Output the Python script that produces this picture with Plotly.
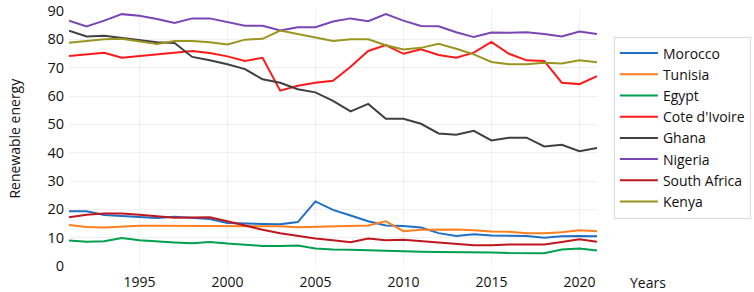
import plotly.graph_objects as go

years = list(range(1991, 2022))

morocco = [19.3, 19.3, 18.0, 17.6, 17.2, 16.9, 17.4, 17.1, 16.6, 15.2,
           14.9, 14.8, 14.7, 15.5, 22.8, 19.8, 17.8, 15.8, 14.3, 14.1,
           13.6, 11.6, 10.6, 11.2, 10.8, 10.8, 10.6, 10.0, 10.5, 10.6, 10.5]
tunisia = [14.5, 13.8, 13.6, 14.0, 14.2, 14.2, 14.2, 14.2, 14.2, 14.0,
           14.2, 14.2, 14.0, 13.7, 13.8, 14.0, 14.0, 14.3, 15.8, 12.3,
           12.8, 12.9, 12.9, 12.6, 12.2, 12.1, 11.6, 11.6, 11.9, 12.6, 12.3]
egypt = [9.0, 8.6, 8.7, 9.9, 9.1, 8.6, 8.3, 8.0, 8.5, 7.9,
         7.6, 7.1, 7.1, 7.2, 6.2, 5.8, 5.7, 5.5, 5.2, 5.0,
         5.0, 4.9, 4.9, 4.9, 4.8, 4.6, 4.5, 4.5, 5.8, 6.2, 5.5]
cote_divoire = [74.1, 74.7, 75.3, 73.5, 74.1, 74.7, 75.3, 75.9, 75.2, 74.0,
                72.4, 73.5, 61.9, 63.6, 64.7, 65.4, 70.3, 75.9, 78.0, 74.9,
                76.5, 74.5, 73.5, 75.3, 79.1, 74.9, 72.6, 72.4, 64.7, 64.2, 67.0]
ghana = [83.1, 81.0, 81.3, 80.5, 79.8, 79.0, 78.7, 73.8, 72.6, 71.2,
         69.5, 65.9, 64.7, 62.4, 61.3, 58.3, 54.6, 57.2, 52.0, 52.0,
         50.2, 46.8, 46.3, 47.7, 44.3, 45.3, 45.3, 42.2, 42.8, 40.5, 41.7]
nigeria = [86.6, 84.6, 86.6, 88.9, 88.3, 87.2, 85.8, 87.4, 87.4, 86.2,
           84.8, 84.8, 83.1, 84.3, 84.3, 86.3, 87.4, 86.4, 88.9, 86.6,
           84.7, 84.6, 82.5, 80.8, 82.4, 82.3, 82.5, 81.9, 81.0, 82.8, 81.9]
south_africa = [17.2, 18.1, 18.5, 18.5, 18.1, 17.6, 17.0, 17.1, 17.2, 15.8,
                14.3, 12.8, 11.6, 10.6, 9.7, 9.1, 8.4, 9.7, 9.1, 9.3,
                8.8, 8.1, 7.6, 7.3, 7.3, 7.6, 7.6, 7.6, 8.5, 9.4, 8.6]
kenya = [78.8, 79.4, 80.0, 80.2, 79.3, 78.4, 79.4, 79.4, 79.0, 78.2,
         79.9, 80.2, 83.1, 81.9, 80.8, 79.4, 80.0, 80.0, 77.9, 76.4,
         77.0, 78.4, 76.7, 74.7, 72.0, 71.2, 71.2, 71.7, 71.5, 72.6, 71.9]

series_names = ["Morocco", "Tunisia", "Egypt", "Cote d'Ivoire", "Ghana",
                "Nigeria", "South Africa", "Kenya"]
series_values = [morocco, tunisia, egypt, cote_divoire, ghana, nigeria,
                 south_africa, kenya]
series_colors = ["#1F6FC5", "#FF7F1E", "#00A050", "#FF1A1A", "#404040",
                 "#7A45B5", "#C0171E", "#9A9420"]

x_tick_vals = [1995, 2000, 2005, 2010, 2015, 2020]
y_tick_vals = [0, 10, 20, 30, 40, 50, 60, 70, 80, 90]

FONT = "Open Sans, DejaVu Sans, sans-serif"

fig = go.Figure()
for name, vals, col in zip(series_names, series_values, series_colors):
    fig.add_trace(go.Scatter(x=years, y=vals, mode="lines", name=name,
                             line=dict(color=col, width=2)))

fig.update_layout(
    width=754, height=292,
    margin=dict(l=69, r=157, t=11, b=26, autoexpand=False),
    paper_bgcolor="white", plot_bgcolor="white",
    font=dict(family=FONT, size=14, color="#111111"),
    showlegend=True,
    legend=dict(x=1.032, y=0.9, xanchor="left", yanchor="top",
                bordercolor="#D9D9D9", borderwidth=1,
                font=dict(family=FONT, size=14, color="#111111"),
                tracegroupgap=0, itemwidth=38),
    xaxis=dict(range=[1991, 2021], tickvals=x_tick_vals,
               showgrid=True, gridcolor="#EFEFEF", gridwidth=1,
               zeroline=False, showline=False, ticks="",
               tickfont=dict(size=14), ticklabelstandoff=6,
               ticklabeloverflow="allow", automargin=False),
    yaxis=dict(range=[0, 90.01], tickvals=y_tick_vals,
               showgrid=True, gridcolor="#EFEFEF", gridwidth=1,
               zeroline=False, showline=False, ticks="",
               tickfont=dict(size=14.5), ticklabelstandoff=4,
               ticklabeloverflow="allow", automargin=False),
    annotations=[
        dict(text="Renewable energy", textangle=-90, xref="paper", yref="paper",
             x=-0.104, y=0.5, xanchor="center", yanchor="middle",
             showarrow=False, font=dict(size=14)),
        dict(text="Years", xref="paper", yref="paper",
             x=1.097, y=-0.066, xanchor="center", yanchor="middle",
             showarrow=False, font=dict(size=14)),
    ],
)

fig.write_html("out.html",
               config={"displayModeBar": False},
               post_script="document.body.style.margin='0';"
                           "document.body.style.overflow='hidden';")
